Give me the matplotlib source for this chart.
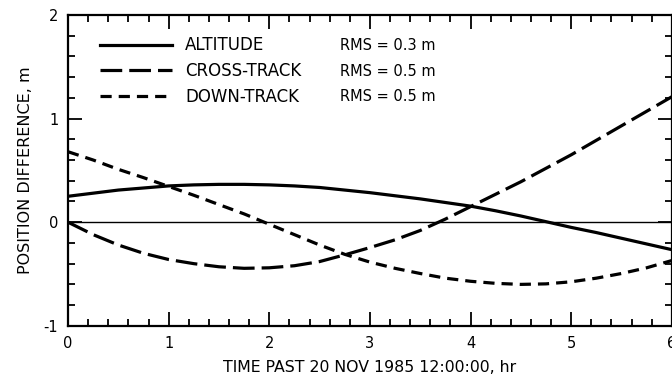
import numpy as np
import matplotlib.pyplot as plt
from matplotlib.lines import Line2D
from matplotlib.ticker import MultipleLocator

plt.rcParams['font.family'] = ['DejaVu Sans']
plt.rcParams['axes.unicode_minus'] = False

# time past epoch, hours
hours = np.arange(0, 6.01, 0.25)

# position differences, m
altitude = [0.25, 0.28, 0.31, 0.33, 0.35, 0.36, 0.365, 0.365, 0.36, 0.35,
            0.335, 0.31, 0.285, 0.255, 0.225, 0.19, 0.155, 0.11, 0.06,
            0.005, -0.05, -0.10, -0.155, -0.21, -0.265]
cross_track = [0.0, -0.12, -0.22, -0.30, -0.36, -0.40, -0.43, -0.445, -0.44,
               -0.42, -0.38, -0.315, -0.245, -0.17, -0.08, 0.03, 0.15, 0.27,
               0.39, 0.52, 0.65, 0.79, 0.93, 1.07, 1.21]
down_track = [0.68, 0.60, 0.51, 0.43, 0.345, 0.26, 0.17, 0.08, -0.02, -0.12,
              -0.22, -0.31, -0.385, -0.445, -0.495, -0.54, -0.57, -0.59, -0.60,
              -0.595, -0.575, -0.54, -0.495, -0.44, -0.37]

names = ['ALTITUDE', 'CROSS-TRACK', 'DOWN-TRACK']
rms_labels = ['RMS = 0.3 m', 'RMS = 0.5 m', 'RMS = 0.5 m']

fig = plt.figure(figsize=(6.72, 3.82), dpi=100)
ax = fig.add_axes([0.1012, 0.147, 0.8985, 0.814])

lw = 2.3
styles = [dict(linestyle='-'),
          dict(linestyle=(0, (6.8, 2.2))),
          dict(linestyle=(0, (3.5, 2.2)))]

ax.axhline(0, color='black', lw=1.0)
for y, st in zip([altitude, cross_track, down_track], styles):
    ax.plot(hours, y, color='black', lw=lw, dash_capstyle='butt', **st)

ax.set_xlim(0, 6)
ax.set_ylim(-1, 2)
ax.xaxis.set_major_locator(MultipleLocator(1))
ax.xaxis.set_minor_locator(MultipleLocator(0.2))
ax.yaxis.set_major_locator(MultipleLocator(1))
ax.yaxis.set_minor_locator(MultipleLocator(0.2))
ax.tick_params(which='both', direction='in', top=True, right=True,
               width=1.3, labelsize=10.5)
ax.tick_params(which='major', length=10)
ax.tick_params(axis='x', which='major', pad=7)
ax.tick_params(axis='y', which='major', pad=7)
ax.tick_params(which='minor', length=5)
for sp in ax.spines.values():
    sp.set_linewidth(1.6)

ax.set_xlabel('TIME PAST 20 NOV 1985 12:00:00, hr', fontsize=11.3, labelpad=7)
ax.set_ylabel('POSITION DIFFERENCE, m', fontsize=11.5, labelpad=8)

handles = [Line2D([], [], color='black', lw=lw, dash_capstyle='butt', **st)
           for st in styles]
leg = ax.legend(handles, names, loc='upper left', bbox_to_anchor=(0.053, 0.931),
                frameon=False, fontsize=12, handlelength=4.3,
                handletextpad=0.8, labelspacing=0.46, borderaxespad=0,
                borderpad=0)

# RMS column lined up with the legend rows
fig.canvas.draw()
to_axes = ax.transAxes.inverted()
for t, txt in zip(leg.get_texts(), rms_labels):
    bb = t.get_window_extent()
    yc = to_axes.transform((0, (bb.y0 + bb.y1) / 2))[1]
    ax.text(0.451, yc, txt, transform=ax.transAxes,
            fontsize=10.5, va='center', ha='left')

fig.savefig('out.png', dpi=100)
